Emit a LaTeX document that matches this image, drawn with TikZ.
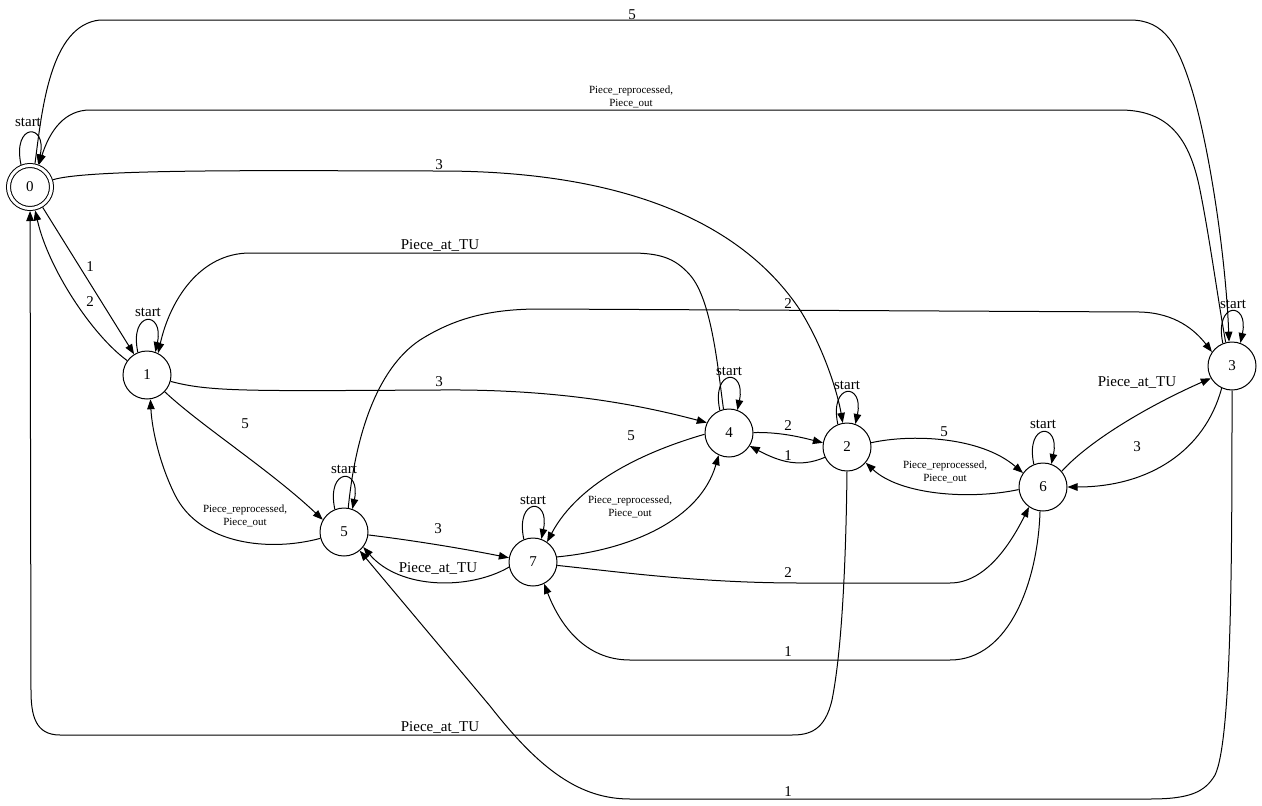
\documentclass[tikz,border=0pt]{standalone}
\usepackage{fontspec}
\setmainfont{Liberation Serif}
\usetikzlibrary{arrows.meta}

\begin{document}
\begin{tikzpicture}[
    x=1pt, y=-1pt,
    state/.style={circle, draw, line width=1pt, minimum size=48pt, inner sep=0pt, font=\fontsize{15}{18}\selectfont},
    accepting/.style={double, double distance=3pt, minimum size=43pt, outer sep=2.5pt},
    edge/.style={line width=1pt, -{Triangle[length=10pt, width=7.5pt]}},
    lbl/.style={font=\fontsize{15}{17}\selectfont, inner sep=0pt},
    slbl/.style={font=\fontsize{11}{13}\selectfont, align=center, inner sep=0pt}
]
\useasboundingbox (0,0) rectangle (1262,806);

% States
\node[state, accepting] (q0) at (30,187) {0};
\node[state] (q1) at (147,375) {1};
\node[state] (q5) at (344,532) {5};
\node[state] (q7) at (533,562) {7};
\node[state] (q4) at (729,433) {4};
\node[state] (q2) at (847,447) {2};
\node[state] (q6) at (1043,487) {6};
\node[state] (q3) at (1232,366) {3};

% Start loops
\draw[edge] (q0.112) .. controls +(-9,-42) and +(9,-42) .. (q0.70);
\draw[edge] (q1.112) .. controls +(-9,-42) and +(9,-42) .. (q1.70);
\draw[edge] (q5.112) .. controls +(-9,-42) and +(9,-42) .. (q5.70);
\draw[edge] (q7.112) .. controls +(-9,-42) and +(9,-42) .. (q7.70);
\draw[edge] (q4.112) .. controls +(-9,-42) and +(9,-42) .. (q4.70);
\draw[edge] (q2.112) .. controls +(-9,-42) and +(9,-42) .. (q2.70);
\draw[edge] (q6.112) .. controls +(-9,-42) and +(9,-42) .. (q6.70);
\draw[edge] (q3.112) .. controls +(-9,-42) and +(9,-42) .. (q3.70);
\node[lbl] (s0) at (28,122) {start};
\node[lbl] (s1) at (148,312) {start};
\node[lbl] (s5) at (344,469) {start};
\node[lbl] (s7) at (533,500) {start};
\node[lbl] (s4) at (729,371) {start};
\node[lbl] (s2) at (847,385) {start};
\node[lbl] (s6) at (1043,424) {start};
\node[lbl] (s3) at (1233,304) {start};

% Edges out of 0
\draw[edge] (q0) -- (q1);
\node[lbl] (l01) at (90,267) {1};
\draw[edge] (q0) .. controls (90,168) and (300,171) .. (440,171) .. controls (620,171) and (740,220) .. (800,310) .. controls (825,350) and (838,395) .. (q2.100);
\node[lbl] (l02) at (439,165) {3};
\draw[edge] (q0.78) .. controls (42,110) and (50,25) .. (100,20) -- (1130,20) .. controls (1165,20) and (1178,45) .. (1192,90) .. controls (1210,150) and (1226,260) .. (q3.97);
\node[lbl] (l03) at (632,15) {5};

% Edges out of 1
\draw[edge] (q1) .. controls (92,335) and (48,268) .. (q0);
\node[lbl] (l10) at (90,302) {2};
\draw[edge] (q1) .. controls (210,392) and (250,391) .. (440,390) .. controls (560,389) and (640,405) .. (q4.155);
\node[lbl] (l14) at (439,382) {3};
\draw[edge] (q1) .. controls (200,425) and (270,470) .. (q5.150);
\node[lbl] (l15) at (245,424) {5};

% Edges out of 5
\draw[edge] (q5.195) .. controls (270,552) and (200,545) .. (175,495) .. controls (160,465) and (152,430) .. (q1.278);
\node[slbl] (l51) at (245,516) {Piece\_reprocessed,\\Piece\_out};
\draw[edge] (q5.80) .. controls (355,440) and (375,370) .. (420,340) .. controls (455,318) and (490,309) .. (540,309) -- (1140,312) .. controls (1175,313) and (1195,330) .. (q3.145);
\node[lbl] (l53) at (788,304) {2};
\draw[edge] (q5) .. controls (410,540) and (460,548) .. (q7.170);
\node[lbl] (l57) at (438,529) {3};

% Edges out of 7
\draw[edge] (q7.192) .. controls (470,590) and (400,590) .. (q5.322);
\node[lbl] (l75) at (438,568) {Piece\_at\_TU};
\draw[edge] (q7.12) .. controls (630,550) and (700,520) .. (q4.245);
\node[slbl] (l74) at (630,507) {Piece\_reprocessed,\\Piece\_out};
\draw[edge] (q7.352) .. controls (620,572) and (700,583) .. (800,583) -- (950,583) .. controls (985,583) and (1010,545) .. (q6.235);
\node[lbl] (l76) at (788,573) {2};

% Edges out of 4
\draw[edge] (q4.103) .. controls (718,370) and (712,300) .. (690,275) .. controls (675,258) and (660,253) .. (630,253) -- (250,253) .. controls (200,253) and (170,300) .. (q1.63);
\node[lbl] (l41) at (440,245) {Piece\_at\_TU};
\draw[edge] (q4.183) .. controls (650,450) and (580,480) .. (q7.55);
\node[lbl] (l47) at (631,436) {5};
\draw[edge] (q4) .. controls (780,432) and (800,437) .. (q2.170);
\node[lbl] (l42) at (788,426) {2};

% Edges out of 2
\draw[edge] (q2.205) .. controls (800,468) and (780,462) .. (q4.328);
\node[lbl] (l24) at (788,456) {1};
\draw[edge] (q2.10) .. controls (910,434) and (980,436) .. (q6.145);
\node[lbl] (l26) at (944,432) {5};
\draw[edge] (q2.270) .. controls (846,560) and (842,650) .. (832,700) .. controls (825,730) and (810,735) .. (792,735) -- (60,735) .. controls (35,735) and (31,715) .. (31,690) -- (q0);
\node[lbl] (l20) at (440,727) {Piece\_at\_TU};

% Edges out of 6
\draw[edge] (q6.186) .. controls (970,500) and (900,495) .. (q2.320);
\node[slbl] (l62) at (945,472) {Piece\_reprocessed,\\Piece\_out};
\draw[edge] (q6.40) .. controls (1090,440) and (1150,405) .. (q3.210);
\node[lbl] (l63) at (1137,382) {Piece\_at\_TU};
\draw[edge] (q6.263) .. controls (1038,580) and (1010,660) .. (950,660) -- (630,660) .. controls (585,660) and (560,625) .. (q7.297);
\node[lbl] (l67) at (788,652) {1};

% Edges out of 3
\draw[edge] (q3.105) .. controls (1218,300) and (1210,240) .. (1200,190) .. controls (1190,140) and (1170,110) .. (1120,110) -- (90,110) .. controls (65,110) and (50,130) .. (q0.68);
\node[slbl] (l30) at (631,97) {Piece\_reprocessed,\\Piece\_out};
\draw[edge] (q3.245) .. controls (1205,450) and (1150,487) .. (q6.0);
\node[lbl] (l36) at (1137,447) {3};
\draw[edge] (q3.270) .. controls (1232,550) and (1232,740) .. (1215,775) .. controls (1205,792) and (1190,799) .. (1150,799) -- (630,799) .. controls (580,799) and (540,770) .. (490,706) -- (q5.310);
\node[lbl] (l35) at (788,792) {1};

\end{tikzpicture}
\end{document}
